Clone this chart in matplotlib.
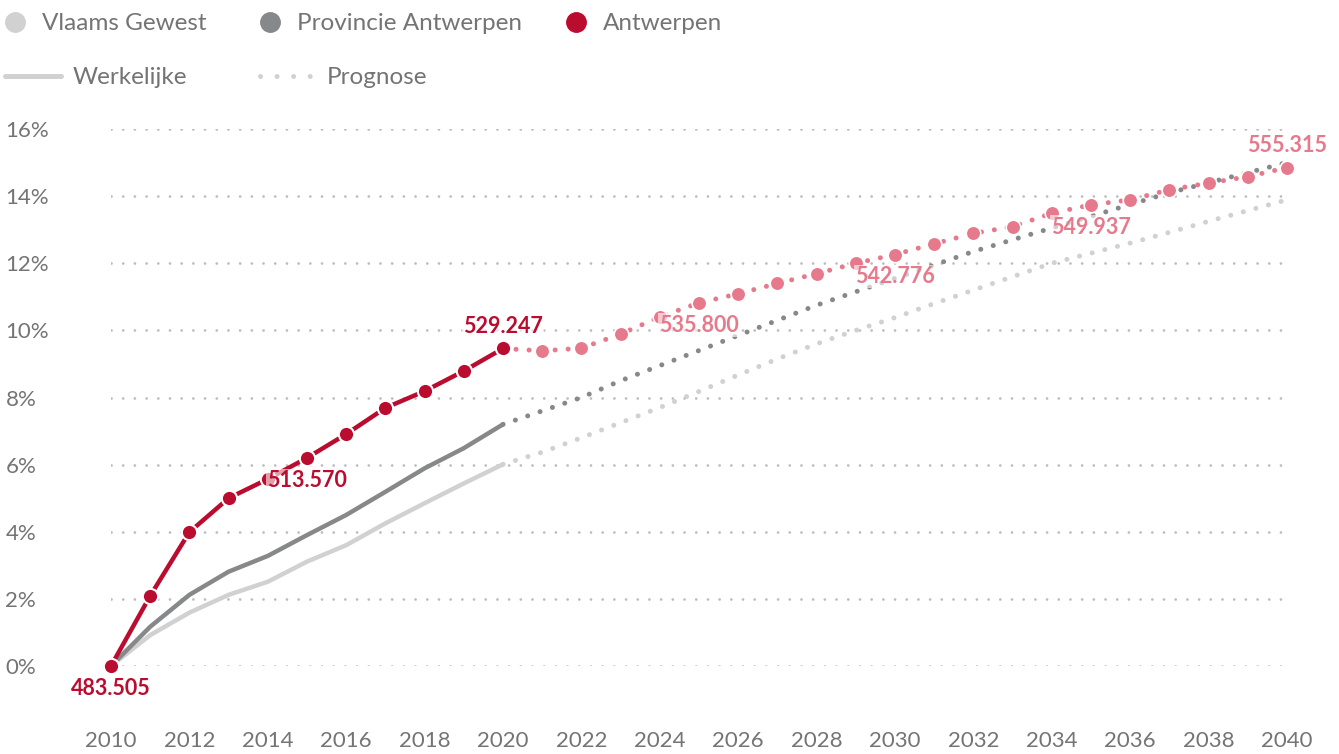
import matplotlib
matplotlib.use("Agg")
import matplotlib.pyplot as plt
from matplotlib.lines import Line2D
import numpy as np

plt.rcParams['font.family'] = ['Lato', 'DejaVu Sans']

# Data: population growth vs 2010 (%)
years_actual = list(range(2010, 2021))
years_prog = list(range(2020, 2041))

vlaams_actual = [0, 0.92, 1.59, 2.12, 2.51, 3.11, 3.60, 4.25, 4.85, 5.44, 6.01]
prov_actual = [0, 1.17, 2.12, 2.81, 3.28, 3.90, 4.50, 5.19, 5.89, 6.49, 7.20]
antw_actual = [0, 2.09, 3.99, 5.00, 5.57, 6.20, 6.91, 7.69, 8.19, 8.79, 9.46]

vlaams_prog = [6.01, 6.37, 6.80, 7.25, 7.70, 8.18, 8.67, 9.15, 9.60, 10.00, 10.38,
               10.80, 11.20, 11.60, 12.00, 12.30, 12.60, 12.92, 13.25, 13.57, 13.89]
prov_prog = [7.20, 7.60, 8.00, 8.50, 8.95, 9.40, 9.85, 10.30, 10.75, 11.15, 11.55,
             11.95, 12.35, 12.70, 13.05, 13.40, 13.75, 14.10, 14.40, 14.70, 15.00]
antw_prog = [9.46, 9.39, 9.47, 9.89, 10.40, 10.82, 11.09, 11.40, 11.69, 12.00, 12.26,
             12.58, 12.89, 13.09, 13.49, 13.74, 13.89, 14.19, 14.39, 14.58, 14.85]

# labelled population counts
label_years = [2010, 2015, 2020, 2025, 2030, 2035, 2040]
label_texts = ['483.505', '513.570', '529.247', '535.800', '542.776', '549.937', '555.315']
label_above = [False, False, True, False, False, False, True]

C_VL = '#d1d1d1'
C_PR = '#87888a'
C_AN = '#ba0c2f'
C_ANP = '#e67a8c'
C_TXT = '#747474'

W, H = 1339, 754
fig = plt.figure(figsize=(W / 100, H / 100), dpi=100)
ax = fig.add_axes([111 / W, 88 / H, 1176 / W, 537 / H])
ax.set_xlim(2010, 2040)
ax.set_ylim(0, 16)

# grid
for y in range(0, 17, 2):
    ax.axhline(y, color='#bdbdbd', lw=2, linestyle=(0, (0.01, 4.2)),
               dash_capstyle='round', zorder=0)

dot = (0, (0.01, 2.6))
# prognoses
ax.plot(years_prog, vlaams_prog, color=C_VL, lw=3.6, linestyle=dot,
        dash_capstyle='round', clip_on=False, zorder=2)
ax.plot(years_prog, prov_prog, color=C_PR, lw=3.6, linestyle=dot,
        dash_capstyle='round', clip_on=False, zorder=2)
ax.plot(years_prog, antw_prog, color=C_ANP, lw=3.6, linestyle=dot,
        dash_capstyle='round', clip_on=False, zorder=3)
ax.plot(years_prog, antw_prog, linestyle='none', marker='o', ms=10.5,
        color=C_ANP, mec='white', mew=1.2, clip_on=False, zorder=4)

# actual
ax.plot(years_actual, vlaams_actual, color=C_VL, lw=3.2, clip_on=False,
        solid_capstyle='round', zorder=3)
ax.plot(years_actual, prov_actual, color=C_PR, lw=3.2, clip_on=False,
        solid_capstyle='round', zorder=3)
ax.plot(years_actual, antw_actual, color=C_AN, lw=3.2, marker='o', ms=11,
        mec='white', mew=1.5, clip_on=False, zorder=5)

# labels
all_years = years_actual + years_prog[1:]
all_vals = antw_actual + antw_prog[1:]
for yr, txt, above in zip(label_years, label_texts, label_above):
    v = all_vals[all_years.index(yr)]
    col = C_AN if yr <= 2020 else C_ANP
    ax.annotate(txt, (yr, v), xytext=(0, 16 if above else -16),
                textcoords='offset points', ha='center', va='center',
                fontsize=15.5, fontweight='bold', color=col, zorder=6,
                bbox=dict(boxstyle='square,pad=0.05', fc='white', ec='none', alpha=0.6),
                annotation_clip=False)

# axes styling
for s in ax.spines.values():
    s.set_visible(False)
ax.set_xticks(range(2010, 2041, 2))
ax.set_xticklabels([str(y) for y in range(2010, 2041, 2)])
ax.set_yticks(range(0, 17, 2))
ax.set_yticklabels([f'{y}%' for y in range(0, 17, 2)])
ax.tick_params(length=0, colors=C_TXT, labelsize=16)
ax.tick_params(axis='x', pad=47)
ax.tick_params(axis='y', pad=76)
for t in ax.get_yticklabels():
    t.set_horizontalalignment('left')

# legend (manual)
def fx(px):
    return px / W

def fy(py):
    return 1 - py / H

for x, c, name in [(15, C_VL, 'Vlaams Gewest'), (270, C_PR, 'Provincie Antwerpen'),
                   (576, C_AN, 'Antwerpen')]:
    fig.add_artist(Line2D([fx(x)], [fy(22)], marker='o', ms=14, color=c,
                          transform=fig.transFigure, linestyle='none'))
    fig.text(fx(x + 27), fy(23), name, fontsize=17.5, color=C_TXT,
             va='center', ha='left')

fig.add_artist(Line2D([fx(5), fx(61)], [fy(76), fy(76)], color=C_VL, lw=3.6,
                      solid_capstyle='round', transform=fig.transFigure))
fig.text(fx(73), fy(77), 'Werkelijke', fontsize=17.5, color=C_TXT,
         va='center', ha='left')
fig.add_artist(Line2D([fx(260), fx(312)], [fy(76), fy(76)], color=C_VL, lw=3.6,
                      linestyle=(0, (0.01, 3.3)), dash_capstyle='round',
                      transform=fig.transFigure))
fig.text(fx(327), fy(77), 'Prognose', fontsize=17.5, color=C_TXT,
         va='center', ha='left')

fig.savefig('out.png', dpi=100)
